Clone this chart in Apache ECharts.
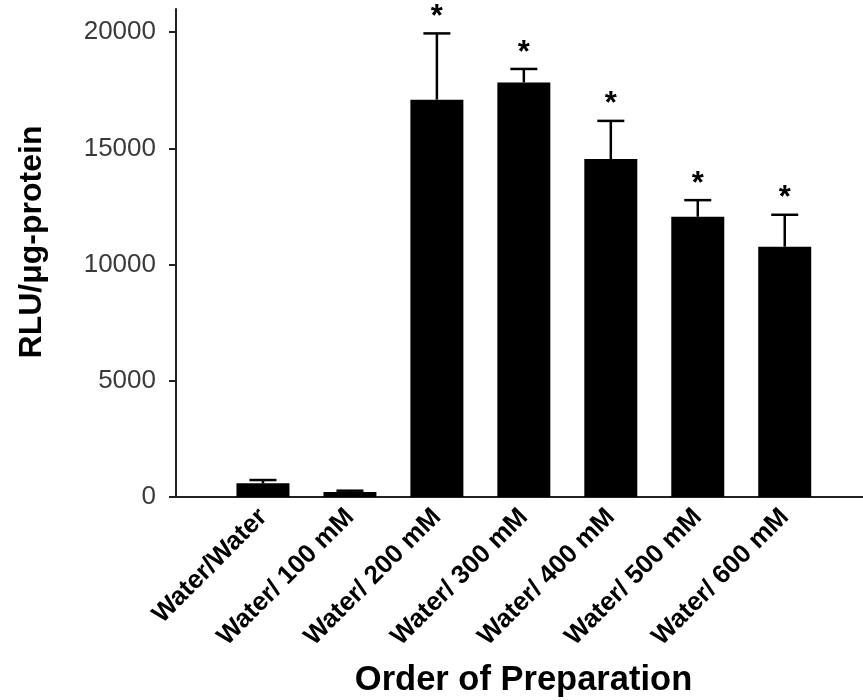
<!DOCTYPE html>
<html>
<head>
<meta charset="utf-8">
<script src="https://cdn.jsdelivr.net/npm/echarts@6/dist/echarts.min.js"></script>
<style>
  html, body { margin: 0; padding: 0; background: #fff; }
  #chart { width: 863px; height: 700px; }
</style>
</head>
<body>
<div id="chart"></div>
<script>
// Luciferase expression per preparation
const categories = ['Water/Water', 'Water/ 100 mM', 'Water/ 200 mM', 'Water/ 300 mM',
                    'Water/ 400 mM', 'Water/ 500 mM', 'Water/ 600 mM'];
const meanValues = [590, 215, 17100, 17840, 14540, 12060, 10770];
const errorValues = [140, 56, 2850, 580, 1645, 715, 1375];
const significance = ['', '', '*', '*', '*', '*', '*'];
const yTicks = [0, 5000, 10000, 15000, 20000];
const categoryIndex = categories.map((c, i) => i);

const FONT = '"Liberation Sans", Arial, sans-serif';

const chart = echarts.init(document.getElementById('chart'));

const barData = meanValues.map((v, i) => [i, v]);
const errorData = meanValues.map((v, i) => [i, v, v + errorValues[i], significance[i]]);

chart.setOption({
  animation: false,
  backgroundColor: '#fff',
  grid: { left: 176, right: 0, top: 9, bottom: 203, containLabel: false, outerBoundsMode: 'none' },
  xAxis: {
    type: 'value',
    min: -1,
    max: 6.9,
    name: 'Order of Preparation',
    nameLocation: 'middle',
    nameGap: 166,
    nameTextStyle: { fontFamily: FONT, fontSize: 34.5, fontWeight: 'bold', color: '#000', padding: [0, 0, 0, 8] },
    axisLine: { show: true, onZero: false, lineStyle: { color: '#222', width: 2 } },
    axisTick: { show: false },
    splitLine: { show: false },
    axisLabel: {
      customValues: categoryIndex,
      formatter: v => categories[v] || '',
      rotate: 45,
      margin: 16,
      fontFamily: FONT,
      fontSize: 26,
      fontWeight: 'bold',
      color: '#000'
    }
  },
  yAxis: {
    type: 'value',
    min: 0,
    max: 21000,
    interval: 5000,
    name: 'RLU/μg-protein',
    nameLocation: 'middle',
    nameGap: 128,
    nameRotate: 90,
    nameTextStyle: { fontFamily: FONT, fontSize: 32, fontWeight: 'bold', color: '#000', padding: [0, 0, 0, 22] },
    axisLine: { show: true, onZero: false, lineStyle: { color: '#222', width: 2 } },
    axisTick: { show: true, customValues: yTicks, length: 7, lineStyle: { color: '#222', width: 2 } },
    splitLine: { show: false },
    axisLabel: {
      customValues: yTicks,
      formatter: v => String(v),
      margin: 20,
      fontFamily: FONT,
      fontSize: 26,
      color: '#3a3a3a'
    }
  },
  series: [
    {
      type: 'bar',
      data: barData,
      barWidth: 53,
      itemStyle: { color: '#000' },
      z: 2
    },
    {
      type: 'custom',
      data: errorData,
      z: 3,
      renderItem: (params, api) => {
        const x = api.value(0);
        const top = api.coord([x, api.value(1)]);
        const cap = api.coord([x, api.value(2)]);
        const half = 13.5;
        const children = [
          { type: 'line', shape: { x1: top[0], y1: top[1], x2: cap[0], y2: cap[1] },
            style: { stroke: '#000', lineWidth: 2.5 } },
          { type: 'line', shape: { x1: cap[0] - half, y1: cap[1], x2: cap[0] + half, y2: cap[1] },
            style: { stroke: '#000', lineWidth: 2.5 } }
        ];
        const mark = errorData[params.dataIndex][3];
        if (mark) {
          children.push({
            type: 'text',
            style: {
              text: mark, x: cap[0], y: cap[1] - 16,
              align: 'center', verticalAlign: 'middle',
              font: 'bold 31px ' + FONT, fill: '#000'
            }
          });
        }
        return { type: 'group', children };
      }
    }
  ]
});
</script>
</body>
</html>
